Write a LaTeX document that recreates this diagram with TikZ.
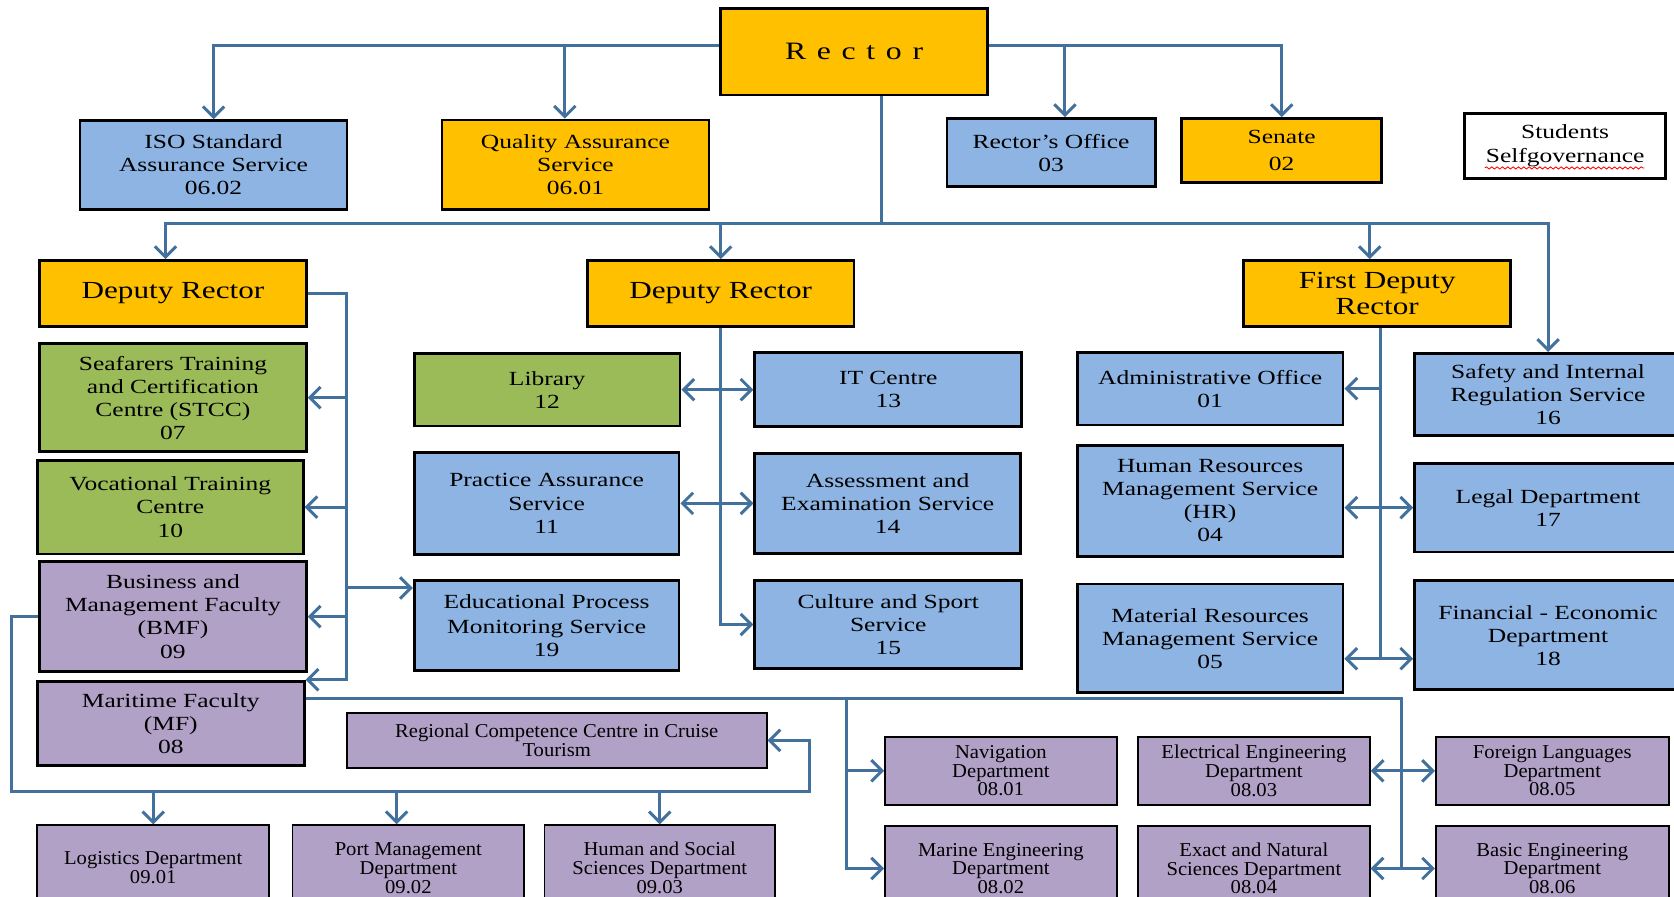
\documentclass[tikz,border=0pt]{standalone}
\usepackage{fontspec}
\setmainfont{Liberation Serif}[FakeStretch=1.27]
\newfontfamily\deptfont{Liberation Serif}[FakeStretch=1.05]
\usetikzlibrary{
    arrows.meta,
    decorations.pathmorphing
}
\definecolor{linecol}{RGB}{65,113,156}
\definecolor{unigold}{RGB}{255,192,0}
\definecolor{uniblue}{RGB}{142,180,227}
\definecolor{unigreen}{RGB}{155,187,89}
\definecolor{unipurple}{RGB}{178,161,199}

\begin{document}
\begin{tikzpicture}[x=0.5pt, y=-0.5pt,
    >={Straight Barb[length=5pt,width=10pt]},
    link/.style={draw=linecol, line width=1.4pt},
    wh/.style 2 args={minimum width=#1pt, minimum height=#2pt},
    box/.style={draw=black, line width=1.3pt, align=center, inner sep=1pt,
                font=\fontsize{9.4}{10.8}\selectfont},
    gold/.style={box, fill=unigold},
    blue/.style={box, fill=uniblue},
    green/.style={box, fill=unigreen},
    purple/.style={box, fill=unipurple},
    dep/.style={font=\fontsize{11.5}{12.3}\selectfont},
    dept/.style={box, fill=unipurple, line width=0.9pt,
                 font=\deptfont\fontsize{9.2}{8.8}\selectfont}
]
    \useasboundingbox (0,0) rectangle (1568,840);

    % rector level
    \node[gold, wh={125}{40.5}]   (rector)   at (800,48.5)    {\fontsize{11.7}{12}\selectfont\spaceskip=5pt R e c t o r};
    \node[blue, wh={125}{41.5}]   (iso)      at (200,154.5)   {ISO Standard\\Assurance Service\\06.02};
    \node[gold, wh={125}{42}]     (qa)       at (539,154.5)   {Quality Assurance\\Service\\06.01};
    \node[blue, wh={97.5}{32}]    (office)   at (984.5,143)   {Rector's Office\\03};
    \node[gold, wh={93.5}{30}]    (senate)   at (1200.5,141)  {Senate\\[2pt]02};
    \node[box, fill=white, wh={94}{30.5}] (students) at (1466,136.5) {Students\\Selfgovernance};

    \node[gold, dep, wh={125}{31}] (dra) at (162,275)  {Deputy Rector};
    \node[gold, dep, wh={125}{31}] (drb) at (675,275)  {Deputy Rector};
    \node[gold, dep, wh={125}{31}] (fdr) at (1290,275) {First Deputy\\Rector};

    % left column
    \node[green,  wh={125}{50.5}]  (stcc)     at (162,372.5)   {Seafarers Training\\and Certification\\Centre (STCC)\\07};
    \node[green,  wh={124.5}{44}]  (vtc)      at (159.5,475)   {Vocational Training\\Centre\\10};
    \node[purple, wh={125}{51.5}]  (bmf)      at (162,577.5)   {Business and\\Management Faculty\\(BMF)\\09};
    \node[purple, wh={125}{39.5}]  (mf)       at (160,677.5)   {Maritime Faculty\\(MF)\\08};

    % middle column
    \node[green, wh={124.5}{34}]   (library)  at (512.5,365)   {Library\\12};
    \node[blue,  wh={125}{34.5}]   (it)       at (832,365)     {IT Centre\\13};
    \node[blue,  wh={124}{48}]     (practice) at (512,471.5)   {Practice Assurance\\Service\\11};
    \node[blue,  wh={124.5}{47}]   (assess)   at (831.5,471.5) {Assessment and\\Examination Service\\14};
    \node[blue,  wh={124}{42}]     (edu)      at (512,586)     {Educational Process\\[1pt]Monitoring Service\\19};
    \node[blue,  wh={125}{41}]     (culture)  at (832,585)     {Culture and Sport\\Service\\15};

    % right column
    \node[blue, wh={124.5}{34}]    (admin)     at (1133.5,364) {Administrative Office\\01};
    \node[blue, wh={124.5}{52}]    (hr)        at (1133.5,469) {Human Resources\\Management Service\\(HR)\\04};
    \node[blue, wh={124.5}{51}]    (material)  at (1133.5,598) {Material Resources\\Management Service\\05};
    \node[blue, wh={125}{38.5}]    (safety)    at (1450,369.5) {Safety and Internal\\Regulation Service\\16};
    \node[blue, wh={125}{41.5}]    (legal)     at (1450,475.5) {Legal Department\\17};
    \node[blue, wh={125}{51}]      (financial) at (1450,595)   {Financial - Economic\\Department\\18};

    % departments
    \node[dept, wh={196.5}{25.5}]  (regional)  at (521.5,693.5) {Regional Competence Centre in Cruise\\Tourism};
    \node[dept, wh={108.5}{40}]    (logistics) at (143.5,813)   {Logistics Department\\09.01};
    \node[dept, wh={108.5}{40}]    (port)      at (382.5,813)   {Port Management\\Department\\09.02};
    \node[dept, wh={108}{40}]      (human)     at (618,813)     {Human and Social\\Sciences Department\\09.03};
    \node[dept, wh={108.5}{32}]    (nav)       at (937.5,722)   {Navigation\\Department\\08.01};
    \node[dept, wh={108.5}{32}]    (elec)      at (1174.5,722)  {Electrical Engineering\\Department\\08.03};
    \node[dept, wh={109}{32}]      (foreign)   at (1454,722)    {Foreign Languages\\Department\\08.05};
    \node[dept, wh={108.5}{40}]    (marine)    at (937.5,813.5) {Marine Engineering\\Department\\08.02};
    \node[dept, wh={108.5}{40}]    (exact)     at (1174.5,813.5) {Exact and Natural\\Sciences Department\\08.04};
    \node[dept, wh={109}{40}]      (basic)     at (1454,813.5)  {Basic Engineering\\Department\\08.06};

    \draw[red, decorate, decoration={snake, amplitude=0.5pt, segment length=2.5pt}]
        ([shift={(10pt,5.5pt)}]students.south west) -- ([shift={(-10.5pt,5.5pt)}]students.south east);

    \coordinate (topbus)   at (800,43);
    \coordinate (mainbus)  at (826,209);
    \coordinate (leftbus)  at (325,275);
    \coordinate (rightbus) at (1293,617);
    \coordinate (lowbus)   at (11,741);
    \coordinate (lowend)   at (758,741);
    \coordinate (mfbus)    at (1313,654);
    \coordinate (navbus)   at (793,654);
    \coordinate (edutap)   at ([yshift=-4pt]edu.north west);
    \coordinate (qatip)    at ([xshift=-5pt]qa.north);
    \coordinate (officetip) at ([xshift=6.5pt]office.north);
    \coordinate (portip)   at ([xshift=-5.5pt]port.north);
    \coordinate (dratip)   at ([xshift=-3.5pt]dra.north);
    \coordinate (fdrtip)   at ([xshift=-3.5pt]fdr.north);

    \draw[link,->] (rector.west |- topbus) -| (iso.north);
    \draw[link,->] (qatip |- topbus) -- (qatip);
    \draw[link,->] (rector.east |- topbus) -| (senate.north);
    \draw[link,->] (officetip |- topbus) -- (officetip);

    \draw[link]    (rector.south -| mainbus) -- (mainbus);
    \draw[link,->] (mainbus) -| (dratip);
    \draw[link,->] (mainbus) -| (safety.north);
    \draw[link,->] (drb.north |- mainbus) -- (drb.north);
    \draw[link,->] (fdrtip |- mainbus) -- (fdrtip);

    \draw[link,->] (dra.east) -- (leftbus) |- (mf.north east);
    \foreach \n in {stcc, vtc, bmf}
        \draw[link,->] (leftbus |- \n.east) -- (\n.east);
    \draw[link,->] (leftbus |- edutap) -- (edutap);

    \draw[link,->]  (drb.south) |- (culture.west);
    \draw[link,<->] (library) -- (it);
    \draw[link,<->] (practice) -- (assess);

    \draw[link]     (fdr.south -| rightbus) -- (rightbus);
    \draw[link,->]  (rightbus |- admin.east) -- (admin.east);
    \draw[link,<->] (hr.east |- legal.west) -- (legal.west);
    \draw[link,<->] (material.east |- rightbus) -- (financial.west |- rightbus);

    \draw[link,->] (bmf.west) -| (lowbus) -- (lowend) |- (regional.east);
    \foreach \n in {logistics, portip, human}
        \draw[link,->] (lowbus -| \n) -- (\n);

    \draw[link]     (mf.east |- mfbus) -- (mfbus) -- (mfbus |- basic.west);
    \draw[link,->]  (navbus) |- (marine.west);
    \draw[link,->]  (navbus |- nav.west) -- (nav.west);
    \draw[link,<->] (elec) -- (foreign);
    \draw[link,<->] (exact) -- (basic);
\end{tikzpicture}
\end{document}
